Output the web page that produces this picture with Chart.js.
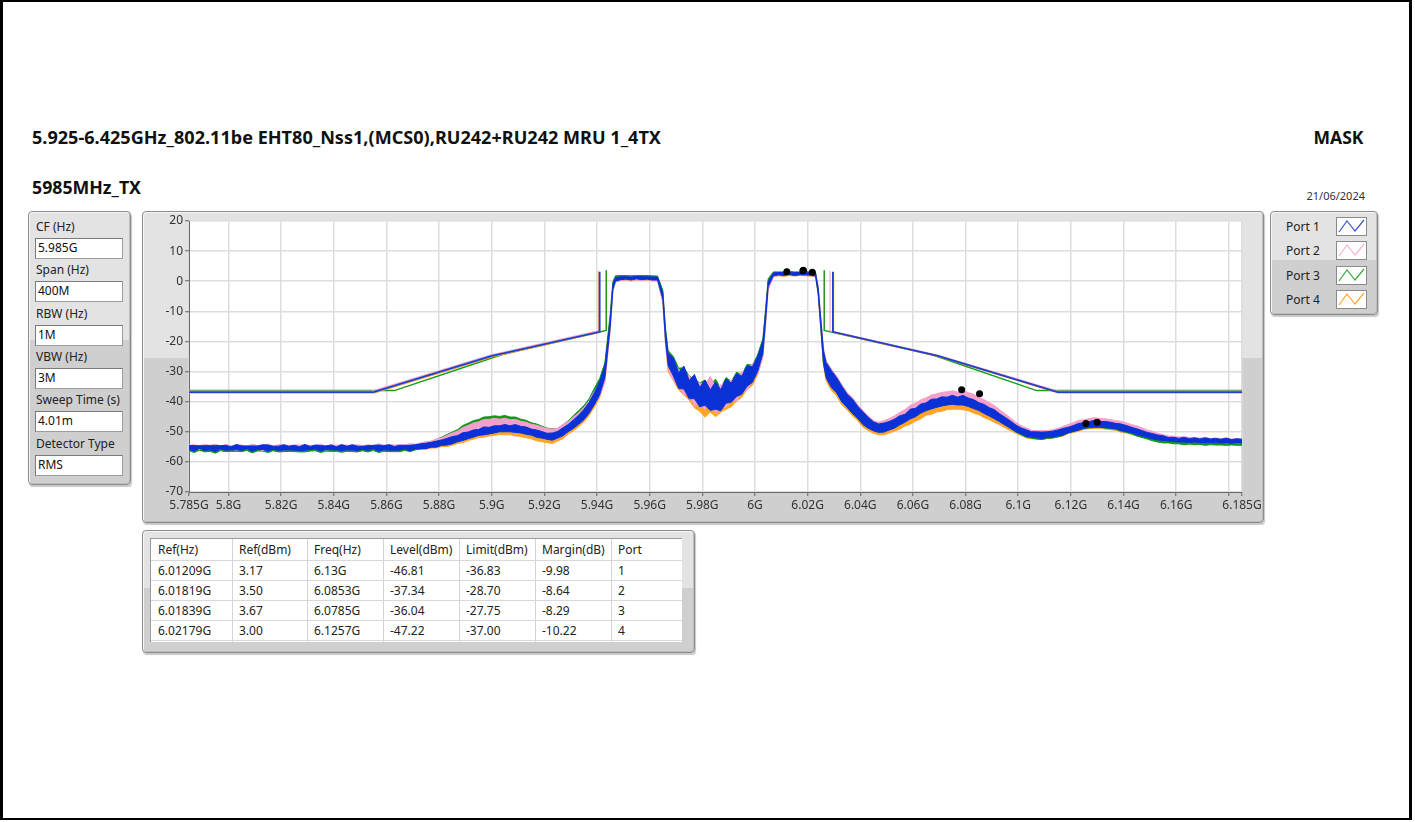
<!DOCTYPE html>
<html>
<head>
<meta charset="utf-8">
<title>Mask 5985MHz_TX</title>
<script src="https://cdn.jsdelivr.net/npm/chart.js@4.4.1/dist/chart.umd.min.js"></script>
<style>
html, body { margin: 0; padding: 0; background: #fff; }
body { width: 1415px; height: 822px; position: relative; overflow: hidden; font-family: "Noto Sans", "Open Sans", sans-serif; color: #222; }
.frame { position: absolute; left: 0; top: 0; width: 1412px; height: 820px; box-sizing: border-box; border: solid #000; border-width: 2px 3px 2px 3px; }
.txt { position: absolute; white-space: nowrap; line-height: 20px; }
.big { font-weight: bold; font-size: 17px; color: #111; }
.panel { position: absolute; box-sizing: border-box; border: 1px solid #8c8c8c; border-radius: 4px;
  background: linear-gradient(#e3e3e3 0, #e3e3e3 47%, #cfcfcf 47%, #cfcfcf 100%);
  box-shadow: 1px 2px 1px rgba(0,0,0,0.22), inset 1px 1px 0 #f6f6f6, inset -1px -1px 0 #bdbdbd; }
.lbl { position: absolute; font-size: 12px; line-height: 16px; color: #222; }
.box { position: absolute; box-sizing: border-box; background: #fff; border: 1px solid #9c9c9c; border-top-color: #7a7a7a; border-left-color: #7a7a7a;
  font-size: 12px; line-height: 18px; padding-left: 2px; color: #111; }
.icon { position: absolute; box-sizing: border-box; width: 31px; height: 19px; background: #fff; border: 1px solid #8a8a8a; }
#tbl { position: absolute; left: 150px; top: 538px; width: 532px; height: 104px; background: #fff; overflow: hidden;
  border-top: 1px solid #9a9a9a; border-left: 1px solid #9a9a9a; box-sizing: border-box; }
.cell { position: absolute; font-size: 12px; line-height: 20px; color: #222; white-space: nowrap; }
.vline { position: absolute; top: 0; width: 1px; height: 104px; background: #d4d4d4; }
.hline { position: absolute; left: 0; width: 532px; height: 1px; background: #d9d9d9; }
#chartBox { position: absolute; left: 142px; top: 211px; width: 1122px; height: 312px; }
</style>
</head>
<body>
<div class="frame"></div>

<div class="txt big" id="t1" style="left:32px; top:128px;">5.925-6.425GHz_802.11be EHT80_Nss1,(MCS0),RU242+RU242 MRU 1_4TX</div>
<div class="txt big" id="t2" style="right:52px; top:128px;">MASK</div>
<div class="txt big" id="t3" style="left:32px; top:178px;">5985MHz_TX</div>
<div class="txt" id="t4" style="right:50px; top:186px; font-size:11px; color:#333;">21/06/2024</div>

<div class="panel" id="paramPanel" style="left:28px; top:211px; width:103px; height:274px;"></div>
<div class="panel" style="left:142px; top:211px; width:1122px; height:312px;"></div>
<div id="chartBox"><canvas id="maskChart" width="1122" height="312"></canvas></div>
<div class="panel" id="legendPanel" style="left:1270px; top:211px; width:108px; height:104px;"></div>
<div class="panel" style="left:142px; top:530px; width:553px; height:123px;"></div>
<div id="tbl"></div>

<script>
// ---- plot axes ----
const xTickValues = [5.785, 5.8, 5.82, 5.84, 5.86, 5.88, 5.9, 5.92, 5.94, 5.96, 5.98, 6.0, 6.02, 6.04, 6.06, 6.08, 6.1, 6.12, 6.14, 6.16, 6.18, 6.185];
const xTickLabels = ['5.785G', '5.8G', '5.82G', '5.84G', '5.86G', '5.88G', '5.9G', '5.92G', '5.94G', '5.96G', '5.98G', '6G', '6.02G', '6.04G', '6.06G', '6.08G', '6.1G', '6.12G', '6.14G', '6.16G', '', '6.185G'];

// ---- traces (GHz / dBm) ----
const freqGHz = [
  5.785, 5.787, 5.789, 5.791, 5.793, 5.795, 5.797, 5.799, 5.801, 5.803,
  5.805, 5.807, 5.809, 5.811, 5.813, 5.815, 5.817, 5.819, 5.821, 5.823,
  5.825, 5.827, 5.829, 5.831, 5.833, 5.835, 5.837, 5.839, 5.841, 5.843,
  5.845, 5.847, 5.849, 5.851, 5.853, 5.855, 5.857, 5.859, 5.861, 5.863,
  5.865, 5.867, 5.869, 5.871, 5.873, 5.875, 5.877, 5.879, 5.881, 5.883,
  5.885, 5.887, 5.889, 5.891, 5.893, 5.895, 5.897, 5.899, 5.901, 5.903,
  5.905, 5.907, 5.909, 5.911, 5.913, 5.915, 5.917, 5.919, 5.921, 5.923,
  5.925, 5.927, 5.929, 5.931, 5.933, 5.935, 5.937, 5.939, 5.941, 5.943,
  5.945, 5.946, 5.947, 5.949, 5.951, 5.953, 5.955, 5.957, 5.959, 5.961,
  5.963, 5.965, 5.966, 5.967, 5.969, 5.971, 5.973, 5.975, 5.977, 5.979,
  5.981, 5.983, 5.985, 5.987, 5.989, 5.991, 5.993, 5.995, 5.997, 5.999,
  6.001, 6.003, 6.004, 6.005, 6.007, 6.009, 6.011, 6.013, 6.015, 6.017,
  6.019, 6.021, 6.023, 6.024, 6.025, 6.026, 6.027, 6.029, 6.031, 6.033,
  6.035, 6.037, 6.039, 6.041, 6.043, 6.045, 6.047, 6.049, 6.051, 6.053,
  6.055, 6.057, 6.059, 6.061, 6.063, 6.065, 6.067, 6.069, 6.071, 6.073,
  6.075, 6.077, 6.079, 6.081, 6.083, 6.085, 6.087, 6.089, 6.091, 6.093,
  6.095, 6.097, 6.099, 6.101, 6.103, 6.105, 6.107, 6.109, 6.111, 6.113,
  6.115, 6.117, 6.119, 6.121, 6.123, 6.125, 6.127, 6.129, 6.131, 6.133,
  6.135, 6.137, 6.139, 6.141, 6.143, 6.145, 6.147, 6.149, 6.151, 6.153,
  6.155, 6.157, 6.159, 6.161, 6.163, 6.165, 6.167, 6.169, 6.171, 6.173,
  6.175, 6.177, 6.179, 6.181, 6.183, 6.185
];
// half height of the noise band around each trace point
const noiseHalf = [
  0.6, 0.9, 0.5, 0.8, 0.7, 1.0, 0.6, 0.8, 0.5, 0.9,
  0.7, 0.5, 0.9, 0.6, 0.8, 1.0, 0.5, 0.7, 0.9, 0.6,
  0.8, 0.6, 1.0, 0.5, 0.7, 0.9, 0.6, 0.8, 0.5, 1.0,
  0.6, 0.9, 0.7, 0.5, 0.8, 0.6, 1.0, 0.7, 0.9, 0.6,
  0.8, 0.6, 0.9, 0.7, 0.8, 0.9, 0.8, 1.0, 0.9, 1.1,
  1.2, 1.0, 1.3, 1.1, 1.2, 1.0, 1.3, 1.1, 1.2, 1.0,
  1.2, 1.0, 1.3, 1.1, 1.2, 1.0, 1.2, 1.1, 1.0, 1.2,
  1.1, 1.3, 1.2, 1.4, 1.5, 1.7, 1.8, 2.0, 2.2, 2.0,
  1.2, 0.8, 0.6, 0.5, 0.4, 0.5, 0.4, 0.5, 0.4, 0.5,
  0.5, 1.0, 1.5, 2.0, 3.0, 2.6, 3.8, 3.0, 4.0, 3.2,
  4.2, 3.4, 4.5, 3.5, 4.0, 3.2, 3.8, 3.0, 3.4, 2.6,
  2.5, 2.0, 1.5, 0.8, 0.5, 0.4, 0.5, 0.4, 0.5, 0.4,
  0.5, 0.4, 0.5, 0.8, 1.2, 2.0, 2.5, 2.8, 2.5, 2.6,
  2.2, 2.4, 2.0, 2.1, 1.8, 1.5, 1.4, 1.5, 1.4, 1.5,
  1.5, 1.3, 1.6, 1.4, 1.5, 1.3, 1.6, 1.4, 1.5, 1.3,
  1.5, 1.3, 1.6, 1.4, 1.5, 1.3, 1.5, 1.4, 1.5, 1.3,
  1.3, 1.2, 1.1, 1.0, 1.1, 0.9, 1.0, 1.1, 0.9, 1.0,
  1.0, 1.1, 0.9, 1.0, 1.1, 0.9, 1.0, 1.1, 0.9, 1.0,
  1.0, 0.9, 1.1, 1.0, 0.9, 1.0, 0.9, 0.8, 0.9, 0.8,
  0.8, 0.6, 0.7, 0.6, 0.8, 0.6, 0.7, 0.6, 0.8, 0.6,
  0.7, 0.6, 0.8, 0.6, 0.7, 0.6
];
const port1Level = [
  -55.2, -55.5, -55.1, -55.4, -55.3, -55.6, -55.2, -55.3, -55.5, -55.1,
  -55.4, -55.2, -55.6, -55.3, -55.1, -55.4, -55.3, -55.5, -55.2, -55.4,
  -55.3, -55.6, -55.2, -55.4, -55.1, -55.5, -55.3, -55.2, -55.5, -55.3,
  -55.4, -55.2, -55.5, -55.3, -55.4, -55.1, -55.4, -55.3, -55.2, -55.5,
  -55.3, -55.1, -55.4, -55.0, -54.8, -54.7, -54.3, -54.1, -53.6, -53.3,
  -52.8, -52.3, -51.6, -51.2, -50.6, -50.2, -49.7, -49.6, -49.2, -49.0,
  -48.8, -49.0, -48.9, -49.3, -49.6, -50.1, -50.6, -51.0, -51.5, -51.6,
  -51.0, -50.0, -48.8, -47.5, -46.0, -44.3, -42.0, -39.0, -35.5, -30.0,
  -14.0, -2.0, 0.6, 1.0, 1.1, 0.9, 1.2, 1.0, 1.1, 0.9,
  0.9, -5.0, -18.0, -26.0, -28.5, -33.0, -32.0, -36.0, -35.0, -38.5,
  -37.0, -39.5, -38.0, -39.5, -36.5, -37.0, -34.5, -34.5, -31.5, -31.0,
  -27.5, -22.0, -12.0, -1.0, 2.3, 2.5, 2.4, 2.6, 2.4, 2.5,
  2.6, 2.4, 2.2, -3.0, -14.0, -25.0, -29.5, -32.5, -34.5, -37.5,
  -39.7, -41.5, -43.5, -45.5, -47.0, -48.2, -48.8, -48.6, -48.0, -47.3,
  -46.2, -45.5, -44.1, -43.6, -42.3, -41.7, -40.8, -40.5, -39.9, -39.8,
  -39.4, -39.8, -39.5, -40.2, -40.8, -41.6, -42.4, -43.4, -44.2, -45.4,
  -46.5, -47.6, -48.8, -49.7, -50.4, -50.9, -51.0, -51.2, -50.9, -50.8,
  -50.4, -50.0, -49.4, -48.9, -48.3, -47.9, -47.6, -47.3, -47.5, -47.6,
  -47.8, -48.1, -48.5, -48.9, -49.4, -50.0, -50.5, -51.0, -51.5, -51.9,
  -52.1, -52.5, -52.5, -52.8, -52.6, -52.9, -52.7, -53.0, -52.8, -53.0,
  -52.9, -53.1, -52.9, -53.2, -53.0, -53.1
];
const port2Level = [
  -55.0, -55.2, -55.3, -55.0, -55.2, -55.1, -55.4, -55.0, -55.2, -55.3,
  -55.1, -55.3, -55.0, -55.2, -55.4, -55.1, -55.2, -55.0, -55.3, -55.1,
  -55.2, -55.0, -55.3, -55.1, -55.2, -55.0, -55.4, -55.1, -55.0, -55.2,
  -55.1, -55.3, -55.0, -55.2, -55.1, -55.3, -55.0, -55.2, -55.1, -55.0,
  -55.1, -55.0, -54.9, -54.8, -54.5, -54.2, -53.9, -53.4, -52.9, -52.3,
  -51.6, -50.8, -49.9, -49.0, -48.3, -47.7, -47.2, -47.0, -46.7, -46.8,
  -46.7, -47.0, -47.2, -47.6, -48.0, -48.5, -49.0, -49.5, -50.0, -50.3,
  -50.0, -49.0, -47.8, -46.5, -45.2, -43.6, -41.5, -38.5, -36.0, -31.5,
  -15.0, -3.0, 0.5, 0.7, 0.9, 0.8, 0.9, 0.7, 0.9, 0.8,
  0.7, -6.0, -19.0, -27.0, -30.0, -32.0, -34.0, -34.5, -37.5, -37.0,
  -38.5, -35.0, -39.5, -38.0, -38.0, -36.0, -36.0, -33.0, -33.0, -30.0,
  -28.5, -23.0, -13.0, -2.0, 2.1, 2.4, 2.3, 2.5, 2.3, 2.4,
  2.7, 2.3, 2.1, -2.0, -13.0, -24.0, -29.0, -32.0, -34.0, -37.0,
  -39.2, -41.0, -43.0, -45.0, -46.5, -47.8, -48.2, -47.8, -47.0, -46.2,
  -45.0, -43.9, -42.8, -41.9, -40.9, -40.0, -39.4, -38.8, -38.4, -38.0,
  -37.9, -38.1, -38.0, -38.4, -39.0, -39.8, -40.8, -41.8, -42.8, -44.0,
  -45.3, -46.6, -47.9, -48.9, -49.8, -50.4, -50.6, -50.7, -50.5, -50.3,
  -49.9, -49.3, -48.5, -47.9, -47.3, -46.9, -46.6, -46.4, -46.5, -46.7,
  -46.9, -47.2, -47.6, -48.0, -48.5, -49.0, -49.6, -50.2, -50.8, -51.3,
  -51.7, -52.0, -52.2, -52.3, -52.5, -52.5, -52.6, -52.7, -52.7, -52.8,
  -52.8, -52.9, -52.9, -53.0, -53.0, -53.0
];
const port3Level = [
  -55.7, -56.0, -55.6, -55.9, -55.8, -56.1, -55.7, -55.8, -56.0, -55.6,
  -55.9, -55.7, -56.1, -55.8, -55.6, -55.9, -55.8, -56.0, -55.7, -55.9,
  -55.8, -56.1, -55.7, -55.9, -55.6, -56.0, -55.8, -55.7, -56.0, -55.8,
  -55.9, -55.7, -56.0, -55.8, -55.9, -55.6, -55.9, -55.8, -55.7, -56.0,
  -55.8, -55.6, -55.7, -55.3, -54.9, -54.5, -54.0, -53.5, -52.7, -52.0,
  -51.3, -50.3, -49.2, -48.3, -47.5, -46.9, -46.4, -46.1, -45.9, -45.9,
  -45.8, -46.1, -46.4, -46.9, -47.4, -48.0, -48.6, -49.2, -49.8, -50.2,
  -50.0, -49.0, -47.6, -46.0, -44.5, -43.0, -40.8, -37.5, -34.5, -29.0,
  -12.0, -1.0, 1.2, 1.4, 1.5, 1.3, 1.5, 1.4, 1.5, 1.3,
  1.2, -4.0, -17.0, -25.0, -28.0, -31.5, -32.5, -34.5, -36.5, -37.0,
  -37.0, -38.0, -37.0, -39.0, -36.0, -36.5, -34.0, -34.0, -31.0, -30.5,
  -27.0, -21.0, -11.0, 0.0, 2.6, 2.7, 2.6, 2.8, 2.6, 2.7,
  2.8, 2.6, 2.4, -3.0, -14.0, -25.0, -29.0, -32.0, -34.5, -37.3,
  -39.5, -41.3, -43.3, -45.2, -46.8, -48.0, -48.4, -48.1, -47.4, -46.7,
  -45.6, -44.6, -43.6, -42.7, -41.8, -40.9, -40.2, -39.6, -39.2, -38.8,
  -38.6, -38.8, -38.8, -39.3, -40.0, -40.8, -41.8, -42.9, -43.9, -45.0,
  -46.3, -47.6, -48.9, -49.9, -50.7, -51.2, -51.4, -51.5, -51.3, -51.1,
  -50.7, -50.1, -49.5, -48.9, -48.3, -48.0, -47.7, -47.5, -47.6, -47.8,
  -48.0, -48.3, -48.7, -49.2, -49.8, -50.4, -51.0, -51.6, -52.1, -52.6,
  -52.9, -53.1, -53.3, -53.4, -53.5, -53.5, -53.6, -53.6, -53.7, -53.7,
  -53.7, -53.8, -53.7, -53.8, -53.8, -53.9
];
const port4Level = [
  -55.4, -55.3, -55.6, -55.2, -55.5, -55.4, -55.3, -55.6, -55.3, -55.4,
  -55.3, -55.5, -55.3, -55.6, -55.4, -55.2, -55.5, -55.3, -55.4, -55.6,
  -55.4, -55.3, -55.5, -55.2, -55.4, -55.6, -55.3, -55.4, -55.5, -55.3,
  -55.5, -55.3, -55.4, -55.6, -55.3, -55.4, -55.5, -55.3, -55.6, -55.4,
  -55.4, -55.5, -55.3, -55.2, -55.0, -54.9, -54.6, -54.4, -54.0, -53.8,
  -53.3, -52.9, -52.3, -51.8, -51.3, -50.9, -50.5, -50.3, -50.0, -49.9,
  -49.8, -50.0, -50.1, -50.4, -50.8, -51.3, -51.8, -52.2, -52.6, -52.7,
  -52.0, -51.0, -49.6, -48.3, -46.8, -45.0, -42.8, -39.8, -36.5, -31.0,
  -15.0, -2.5, 0.5, 0.7, 0.8, 0.6, 0.8, 0.7, 0.8, 0.6,
  0.6, -6.0, -19.0, -28.0, -30.0, -33.5, -34.0, -36.5, -38.0, -40.0,
  -41.0, -40.0, -40.5, -40.0, -38.5, -38.5, -36.0, -35.5, -32.5, -32.0,
  -28.5, -23.0, -13.0, -2.0, 2.0, 2.2, 2.1, 2.3, 2.2, 2.3,
  2.3, 2.1, 2.0, -4.0, -15.0, -26.0, -30.5, -33.5, -35.5, -38.5,
  -40.5, -42.3, -44.3, -46.3, -47.8, -49.0, -49.6, -49.5, -49.0, -48.3,
  -47.6, -46.8, -45.9, -45.0, -44.2, -43.2, -42.6, -42.0, -41.7, -41.3,
  -41.0, -41.2, -41.1, -41.6, -42.3, -43.0, -43.8, -44.6, -45.4, -46.4,
  -47.4, -48.4, -49.4, -50.2, -50.9, -51.4, -51.5, -51.5, -51.3, -51.1,
  -50.8, -50.3, -49.7, -49.2, -48.7, -48.3, -48.0, -47.8, -48.0, -48.1,
  -48.3, -48.6, -49.0, -49.4, -49.9, -50.4, -50.9, -51.4, -51.8, -52.2,
  -52.5, -52.7, -52.8, -52.9, -53.0, -53.0, -53.1, -53.1, -53.2, -53.2,
  -53.2, -53.3, -53.2, -53.3, -53.3, -53.3
];

// ---- limit masks (null = gap over the occupied band) ----
const maskFreq1 = [5.785, 5.855, 5.9, 5.941, 5.941, 5.985, 6.0296, 6.0296, 6.0695, 6.115, 6.185];
const maskLevel1 = [-36.83, -36.83, -24.83, -16.83, 3.17, null, 3.17, -16.83, -24.83, -36.83, -36.83];
const maskFreq2 = [5.785, 5.8545, 5.8995, 5.9405, 5.9405, 5.985, 6.0285, 6.0285, 6.0693, 6.115, 6.185];
const maskLevel2 = [-36.5, -36.5, -24.5, -16.5, 3.5, null, 3.5, -16.5, -24.5, -36.5, -36.5];
const maskFreq3 = [5.785, 5.863, 5.904, 5.9435, 5.9435, 5.985, 6.0263, 6.0263, 6.067, 6.107, 6.185];
const maskLevel3 = [-36.33, -36.33, -24.33, -16.33, 3.67, null, 3.67, -16.33, -24.33, -36.33, -36.33];
const maskFreq4 = [5.785, 5.8555, 5.9005, 5.9408, 5.9408, 5.985, 6.0298, 6.0298, 6.0698, 6.1152, 6.185];
const maskLevel4 = [-37.0, -37.0, -25.0, -17.0, 3.0, null, 3.0, -17.0, -25.0, -37.0, -37.0];

// ---- marker table ----
const refFreqGHz = [6.01209, 6.01819, 6.01839, 6.02179];
const refLevel = [3.17, 3.50, 3.67, 3.00];
const peakFreqGHz = [6.13, 6.0853, 6.0785, 6.1257];
const peakLevel = [-46.81, -37.34, -36.04, -47.22];
const limitLevel = [-36.83, -28.70, -27.75, -37.00];
const marginDb = [-9.98, -8.64, -8.29, -10.22];
const portNo = [1, 2, 3, 4];

// ---- settings panel ----
const paramLabels = ['CF (Hz)', 'Span (Hz)', 'RBW (Hz)', 'VBW (Hz)', 'Sweep Time (s)', 'Detector Type'];
const paramValues = ['5.985G', '400M', '1M', '3M', '4.01m', 'RMS'];

const portNames = ['Port 1', 'Port 2', 'Port 3', 'Port 4'];
const traceColors = ['#0a31d6', '#f5a0cc', '#10981a', '#ffa424'];
const maskColors = ['#1e40d0', '#f3a6cc', '#169c16', '#f5a02a'];
const maskWidths = [1.8, 1.1, 1.5, 1.5];
const maskOrder = [60, 75, 80, 65];
const iconColors = ['#3a56d2', '#f7b2d4', '#3aa63a', '#ffa630'];

// settings panel
const pp = document.getElementById('paramPanel');
paramLabels.forEach((t, i) => {
  const l = document.createElement('div');
  l.className = 'lbl';
  l.textContent = t;
  l.style.left = '7px';
  l.style.top = (7 + i * 43.3) + 'px';
  pp.appendChild(l);
  const b = document.createElement('div');
  b.className = 'box';
  b.textContent = paramValues[i];
  b.style.left = '6px';
  b.style.width = '88px';
  b.style.height = '21px';
  b.style.top = (26 + i * 43.3) + 'px';
  pp.appendChild(b);
});

// legend panel
const lp = document.getElementById('legendPanel');
portNames.forEach((n, i) => {
  const l = document.createElement('div');
  l.className = 'lbl';
  l.textContent = n;
  l.style.left = '15px';
  l.style.top = (7 + i * 24.3) + 'px';
  lp.appendChild(l);
  const ic = document.createElement('div');
  ic.className = 'icon';
  ic.style.left = '65px';
  ic.style.top = (5 + i * 24.3) + 'px';
  ic.innerHTML = '<svg width="29" height="17"><polyline points="2,14 10,3 18,13 27,2" fill="none" stroke="' + iconColors[i] + '" stroke-width="1.2"/></svg>';
  lp.appendChild(ic);
});

// marker table
const tbl = document.getElementById('tbl');
const colX = [0, 81, 156, 232, 308, 384, 460, 532];
const headers = ['Ref(Hz)', 'Ref(dBm)', 'Freq(Hz)', 'Level(dBm)', 'Limit(dBm)', 'Margin(dB)', 'Port'];
const rows = portNo.map((p, i) => [
  refFreqGHz[i] + 'G', refLevel[i].toFixed(2), peakFreqGHz[i] + 'G',
  peakLevel[i].toFixed(2), limitLevel[i].toFixed(2), marginDb[i].toFixed(2), String(p)
]);
function addCell(t, c, top) {
  const d = document.createElement('div');
  d.className = 'cell';
  d.textContent = t;
  d.style.left = (colX[c] + 7) + 'px';
  d.style.top = top + 'px';
  tbl.appendChild(d);
}
headers.forEach((h, c) => addCell(h, c, 1));
rows.forEach((r, ri) => r.forEach((t, c) => addCell(t, c, 22 + ri * 20)));
for (let c = 1; c < colX.length - 1; c++) {
  const v = document.createElement('div');
  v.className = 'vline';
  v.style.left = colX[c] + 'px';
  tbl.appendChild(v);
}
[21, 41, 61, 81, 101].forEach(y => {
  const h = document.createElement('div');
  h.className = 'hline';
  h.style.top = y + 'px';
  tbl.appendChild(h);
});

// ---- chart ----
const levels = [port1Level, port2Level, port3Level, port4Level];
const maskF = [maskFreq1, maskFreq2, maskFreq3, maskFreq4];
const maskL = [maskLevel1, maskLevel2, maskLevel3, maskLevel4];
const drawOrder = [10, 20, 30, 40];   // blue on top, then pink, green, orange

const datasets = [];
datasets.push({
  type: 'scatter',
  data: refFreqGHz.map((f, i) => ({ x: f, y: refLevel[i] }))
    .concat(peakFreqGHz.map((f, i) => ({ x: f, y: peakLevel[i] }))),
  pointRadius: 3.5, pointBackgroundColor: '#000', pointBorderWidth: 0, showLine: false, order: 0
});
levels.forEach((lv, p) => {
  const lo = freqGHz.map((f, i) => ({ x: f, y: lv[i] - noiseHalf[i] }));
  const hi = freqGHz.map((f, i) => ({ x: f, y: lv[i] + noiseHalf[i] }));
  const loIndex = datasets.length;
  datasets.push({ data: lo, borderColor: traceColors[p], borderWidth: 1, pointRadius: 0, fill: false, order: drawOrder[p] });
  datasets.push({ data: hi, borderColor: traceColors[p], borderWidth: 1, pointRadius: 0, fill: loIndex,
    backgroundColor: traceColors[p], order: drawOrder[p] });
});
maskF.forEach((mf, p) => {
  datasets.push({
    data: mf.map((f, i) => ({ x: f, y: maskL[p][i] })),
    borderColor: maskColors[p], borderWidth: maskWidths[p], pointRadius: 0, fill: false, spanGaps: false,
    order: maskOrder[p]
  });
});

const plotBg = {
  id: 'plotBg',
  beforeDraw(chart) {
    const { ctx, chartArea: a } = chart;
    ctx.save();
    ctx.fillStyle = '#fff';
    ctx.fillRect(a.left, a.top, a.right - a.left, a.bottom - a.top);
    ctx.restore();
  }
};

new Chart(document.getElementById('maskChart'), {
  type: 'line',
  data: { datasets },
  plugins: [plotBg],
  options: {
    responsive: false,
    animation: false,
    devicePixelRatio: 1,
    layout: { padding: { left: 0, top: 10, right: 22, bottom: 0 } },
    plugins: { legend: { display: false }, tooltip: { enabled: false } },
    elements: { line: { tension: 0 } },
    scales: {
      x: {
        type: 'linear', min: 5.785, max: 6.185,
        afterBuildTicks: s => { s.ticks = xTickValues.map(v => ({ value: v })); },
        afterFit: s => { s.height = 31; s.paddingLeft = 0; s.paddingRight = 0; },
        ticks: {
          autoSkip: false, maxRotation: 0, padding: 2, color: '#333',
          font: { family: 'Noto Sans', size: 12 },
          callback: v => xTickLabels[xTickValues.indexOf(v)]
        },
        grid: { color: '#dddddd', lineWidth: 1.5, tickLength: 4, tickColor: '#666', tickWidth: 1 },
        border: { color: '#6a6a6a', width: 1 }
      },
      y: {
        min: -70, max: 20,
        afterFit: s => { s.width = 47; },
        ticks: { stepSize: 10, padding: 2, color: '#333', font: { family: 'Noto Sans', size: 12 } },
        grid: { color: '#dddddd', lineWidth: 1.5, tickLength: 4, tickColor: '#666', tickWidth: 1 },
        border: { color: '#6a6a6a', width: 1 }
      }
    }
  }
});

// fit heading widths to the reference
function fitWidth(id, target, origin) {
  const el = document.getElementById(id);
  const w = el.getBoundingClientRect().width;
  el.style.transformOrigin = origin;
  el.style.transform = 'scaleX(' + (target / w) + ')';
}
fitWidth('t1', 629, 'left center');
fitWidth('t2', 50, 'right center');
fitWidth('t3', 109, 'left center');
</script>
</body>
</html>
